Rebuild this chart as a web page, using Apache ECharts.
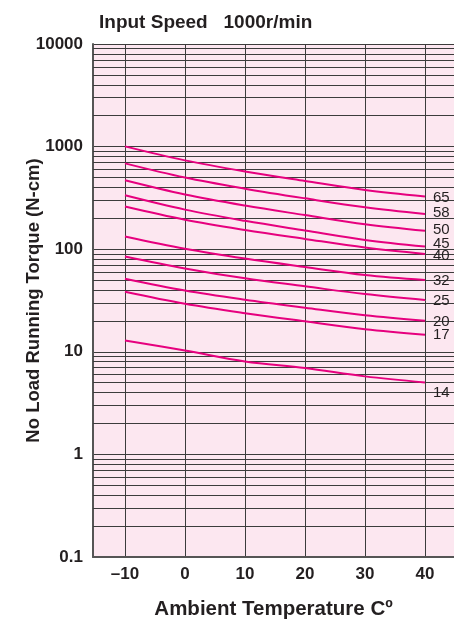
<!DOCTYPE html>
<html>
<head>
<meta charset="utf-8">
<script src="https://cdn.jsdelivr.net/npm/echarts@6/dist/echarts.min.js"></script>
<style>
html,body{margin:0;padding:0;background:#fff;}
#chart{width:454px;height:626px;}
</style>
</head>
<body>
<div id="chart"></div>
<script>
// ---- data ----
const temps = [-10, 0, 10, 20, 30, 40];
const ratioNames = ['65', '58', '50', '45', '40', '32', '25', '20', '17', '14'];
const torque65 = [1005, 734, 573, 463, 378, 327];
const torque58 = [686, 499, 389, 313, 256, 220];
const torque50 = [469, 341, 266, 215, 175, 151];
const torque45 = [335, 243, 189, 152, 123, 106];
const torque40 = [261, 194, 154, 126, 104, 90];
const torque32 = [133, 101, 81, 67, 56, 50];
const torque25 = [85, 65, 52, 43.5, 36.5, 32];
const torque20 = [51.6, 39.6, 32.2, 26.9, 22.7, 20.1];
const torque17 = [38.5, 29.4, 23.8, 19.8, 16.6, 14.7];
const torque14 = [12.9, 10.3, 8.06, 6.95, 5.76, 5.03];
const xTicks = [-10, 0, 10, 20, 30, 40];
const yMajorTicks = [0.1, 1, 10, 100, 1000, 10000];
const yMinorTicks = [0.2,0.3,0.4,0.5,0.6,0.7,0.8,0.9, 2,3,4,5,6,7,8,9, 20,30,40,50,60,70,80,90, 200,300,400,500,600,700,800,900, 2000,3000,4000,5000,6000,7000,8000,9000];

const allSeries = [torque65, torque58, torque50, torque45, torque40, torque32, torque25, torque20, torque17, torque14];
const labelOffsets = [[0,1],[0,-1],[0,-1],[0,-3],[0,2],[0,1],[0,1],[0,1],[0,0],[0,10]];

const FONT = '"Liberation Sans", Arial, sans-serif';
const TXT = '#231f20';
const GRID = '#3c3c3c';
const CURVE = '#e6007e';

const series = allSeries.map((vals, i) => ({
  name: ratioNames[i],
  type: 'line',
  data: temps.map((t, j) => [t, vals[j]]),
  smooth: 0.35,
  showSymbol: false,
  symbol: 'none',
  lineStyle: { color: CURVE, width: 2 },
  z: 3,
  endLabel: {
    show: true,
    formatter: '{a}',
    color: TXT,
    fontFamily: FONT,
    fontSize: 15,
    distance: 8,
    offset: labelOffsets[i]
  },
  silent: true,
  animation: false
}));

series.push({
  name: 'minorGrid',
  type: 'line',
  data: [],
  silent: true,
  animation: false,
  markLine: {
    silent: true,
    symbol: ['none', 'none'],
    label: { show: false },
    z: 1,
    animation: false,
    lineStyle: { color: GRID, width: 1, type: 'solid' },
    data: yMinorTicks.map(v => ({ yAxis: v }))
  }
});

const chart = echarts.init(document.getElementById('chart'), null, { renderer: 'canvas' });
chart.setOption({
  backgroundColor: '#ffffff',
  animation: false,
  title: {
    text: 'Input Speed   1000r/min',
    left: 94,
    top: 8,
    textStyle: { fontFamily: FONT, fontSize: 19, fontWeight: 'bold', color: TXT }
  },
  grid: {
    left: 93, right: 0, top: 44, bottom: 69,
    outerBoundsMode: 'none',
    containLabel: false,
    show: true, backgroundColor: '#fce7f0', borderWidth: 0
  },
  xAxis: {
    type: 'value',
    min: -15.33,
    max: 44.83,
    name: 'Ambient Temperature C\u00BA',
    nameLocation: 'middle',
    nameGap: 42,
    nameMoveOverlap: false,
    nameTextStyle: { fontFamily: FONT, fontSize: 20.5, fontWeight: 'bold', color: TXT },
    axisLine: { show: true, onZero: false, lineStyle: { color: '#555', width: 2 } },
    axisTick: { show: false, customValues: xTicks },
    axisLabel: {
      customValues: xTicks,
      fontFamily: FONT, fontSize: 17, fontWeight: 'bold', color: TXT, margin: 9,
      formatter: v => String(v).replace('-', '\u2013')
    },
    splitLine: { show: true, lineStyle: { color: GRID, width: 1 } }
  },
  yAxis: {
    type: 'log',
    logBase: 10,
    min: 0.1,
    max: 10000,
    name: 'No Load Running Torque (N-cm)',
    nameLocation: 'middle',
    nameGap: 50,
    nameMoveOverlap: false,
    nameRotate: 90,
    nameTextStyle: { fontFamily: FONT, fontSize: 18.5, fontWeight: 'bold', color: TXT },
    axisLine: { show: true, onZero: false, lineStyle: { color: '#555', width: 2 } },
    axisTick: { show: false },
    axisLabel: {
      fontFamily: FONT, fontSize: 17, fontWeight: 'bold', color: TXT, margin: 10,
      formatter: v => {
        const m = yMajorTicks.find(t => Math.abs(t - v) / t < 1e-6);
        return m !== undefined ? String(m) : '';
      }
    },
    splitLine: { show: true, lineStyle: { color: GRID, width: 1 } }
  },
  series: series
});
</script>
</body>
</html>
